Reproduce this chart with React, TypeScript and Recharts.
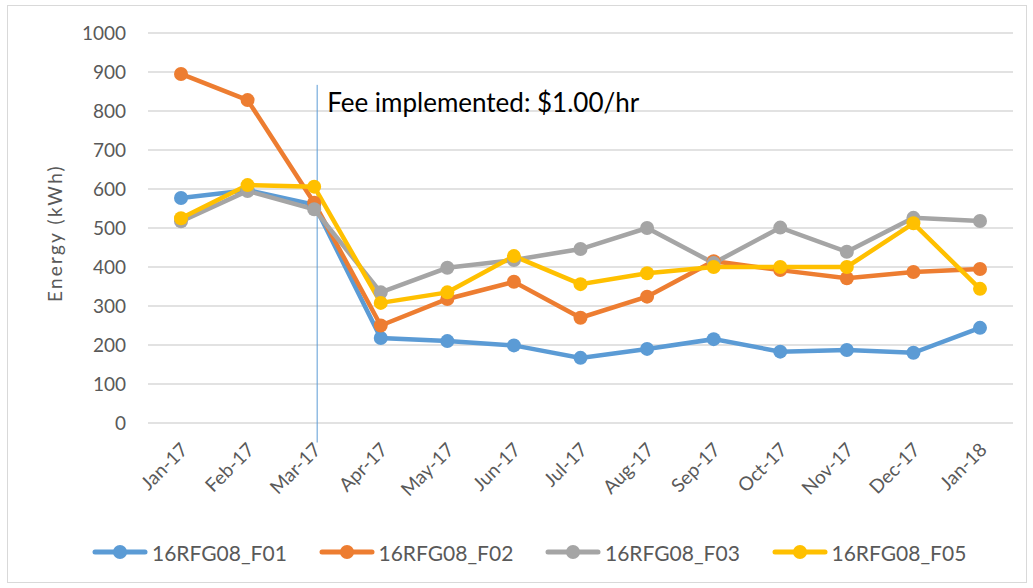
import { LineChart, Line, XAxis, YAxis, CartesianGrid, Legend, ReferenceLine, ReferenceDot } from 'recharts';

const months = ['Jan-17', 'Feb-17', 'Mar-17', 'Apr-17', 'May-17', 'Jun-17', 'Jul-17', 'Aug-17', 'Sep-17', 'Oct-17', 'Nov-17', 'Dec-17', 'Jan-18'];

const f01 = [577, 597, 560, 218, 210, 199, 167, 190, 215, 183, 187, 180, 244];
const f02 = [895, 828, 565, 250, 318, 362, 270, 324, 415, 392, 371, 387, 395];
const f03 = [517, 595, 548, 335, 398, 418, 446, 500, 410, 501, 439, 526, 518];
const f05 = [525, 610, 606, 308, 335, 428, 356, 384, 400, 400, 400, 512, 344];

const yTicks = [0, 100, 200, 300, 400, 500, 600, 700, 800, 900, 1000];

const feeMonth = 'Mar-17';
const feeLabel = 'Fee implemented: $1.00/hr';

const series = [
  { key: '16RFG08_F01', values: f01, color: '#5B9BD5' },
  { key: '16RFG08_F02', values: f02, color: '#ED7D31' },
  { key: '16RFG08_F03', values: f03, color: '#A5A5A5' },
  { key: '16RFG08_F05', values: f05, color: '#FFC000' },
];

const data = months.map((m, i) => {
  const row: any = { month: m };
  series.forEach((s) => (row[s.key] = s.values[i]));
  return row;
});

const FONT = 'Lato, "Open Sans", sans-serif';
const TEXT = '#595959';

function XTick({ x, y, payload }: any) {
  return (
    <g transform={`translate(${x + 8},${y + 28})`}>
      <text textAnchor="end" transform="rotate(-45)" fill={TEXT} fontSize={19} fontFamily={FONT}>
        {payload.value}
      </text>
    </g>
  );
}

function LegendContent({ payload }: any) {
  return (
    <div style={{ display: 'flex', alignItems: 'center', height: 60, paddingLeft: 84 }}>
      {(payload || []).map((p: any) => (
        <div key={p.value} style={{ display: 'flex', alignItems: 'center', width: 226.5 }}>
          <svg width={56} height={18} style={{ marginRight: 4 }}>
            <line x1={3} y1={9} x2={53} y2={9} stroke={p.color} strokeWidth={5} strokeLinecap="round" />
            <circle cx={28} cy={9} r={7} fill={p.color} />
          </svg>
          <span style={{ fontSize: 21, color: TEXT, fontFamily: FONT }}>{p.value}</span>
        </div>
      ))}
    </div>
  );
}

export default function App() {
  return (
    <div
      style={{
        position: 'absolute',
        left: 7,
        top: 5,
        width: 1020,
        height: 578,
        border: '1px solid #d9d9d9',
        boxSizing: 'border-box',
        background: '#fff',
      }}
    >
      <LineChart width={1018} height={576} data={data} margin={{ top: 27, right: 13, bottom: 0, left: 0 }}>
        <CartesianGrid vertical={false} stroke="#d9d9d9" strokeWidth={1.5} />
        <XAxis
          dataKey="month"
          height={99}
          padding={{ left: 33, right: 33 }}
          axisLine={false}
          tickLine={false}
          tickSize={0}
          tickMargin={0}
          interval={0}
          tick={<XTick />}
        />
        <YAxis
          width={140}
          domain={[0, 1000]}
          ticks={yTicks}
          axisLine={false}
          tickLine={false}
          tickSize={0}
          tickMargin={22}
          tick={{ fill: TEXT, fontSize: 19, fontFamily: FONT }}
          label={{
            content: ({ viewBox }: any) => {
              const cx = viewBox.x + 46;
              const cy = viewBox.y + viewBox.height / 2 + 5;
              return (
                <text
                  x={cx}
                  y={cy}
                  transform={`rotate(-90 ${cx} ${cy})`}
                  textAnchor="middle"
                  dominantBaseline="central"
                  fill={TEXT}
                  style={{ fontSize: 19, letterSpacing: 2.2, fontFamily: FONT }}
                >
                  Energy (kWh)
                </text>
              );
            },
          }}
        />
        <ReferenceLine
          segment={[
            { x: feeMonth, y: 867 },
            { x: feeMonth, y: -50 },
          ]}
          ifOverflow="visible"
          stroke="#5B9BD5"
          strokeWidth={1}
          shape={(p: any) => <line x1={p.x1 + 3} y1={p.y1} x2={p.x2 + 3} y2={p.y2} stroke="#5B9BD5" strokeWidth={1} />}
        />
        <ReferenceDot
          x={feeMonth}
          y={870}
          r={0}
          fill="none"
          stroke="none"
          label={{
            content: ({ viewBox }: any) => (
              <text x={viewBox.x + 13} y={viewBox.y + 28} fill="#000" fontSize={26} fontFamily={FONT}>
                {feeLabel}
              </text>
            ),
          }}
        />
        {series.map((s) => (
          <Line
            key={s.key}
            dataKey={s.key}
            name={s.key}
            stroke={s.color}
            strokeWidth={4.5}
            dot={{ r: 7, fill: s.color, stroke: s.color, strokeWidth: 0 }}
            activeDot={false}
            isAnimationActive={false}
          />
        ))}
        <Legend verticalAlign="bottom" height={60} wrapperStyle={{ left: 0, width: 1018 }} content={<LegendContent />} />
      </LineChart>
    </div>
  );
}
